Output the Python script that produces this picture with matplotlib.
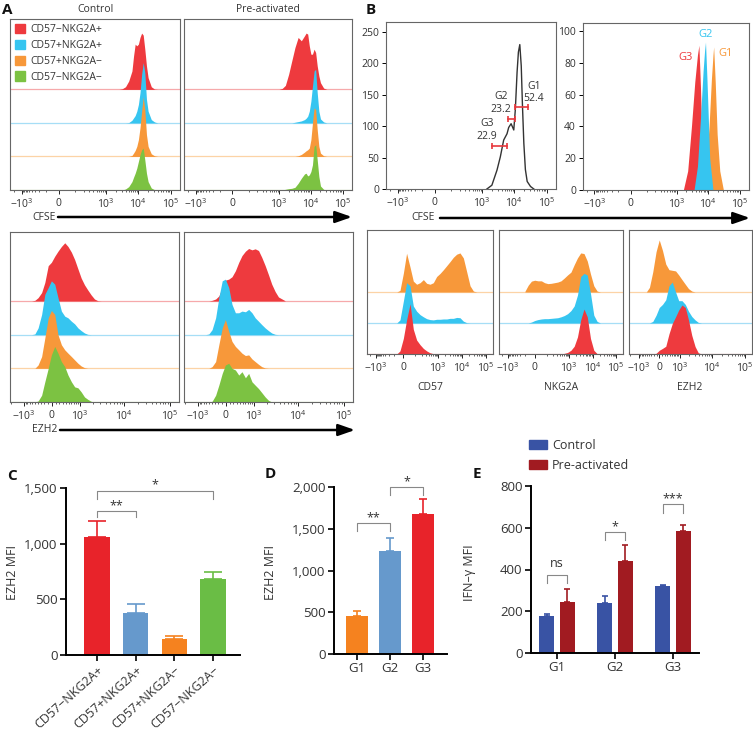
import numpy as np
import matplotlib.pyplot as plt
from matplotlib.patches import Patch, FancyArrowPatch
from matplotlib.ticker import FuncFormatter

W, H = 753, 731

# ---------------- colours ----------------
RED, BLUE, ORANGE, GREEN = '#ee3a3e', '#36c5f0', '#f7983a', '#7cc242'
PALE = {RED: '#f6a9ab', BLUE: '#a6def6', ORANGE: '#fcd3a6', GREEN: '#c6e3a6'}
TXT = '#333333'

# ---------------- panel A : CFSE (x = fluorescence, heights in row units) ----------------
cfse_x = [790, 1000, 1260, 1580, 2000, 2510, 3160, 3980, 5010, 6310, 7080, 7940,
          8910, 10000, 11200, 12600, 14100, 15800, 17800, 20000, 25100, 31600, 39800]
ctrl_cfse_red = [0, 0, 0, 0, 0, 0, 0.02, 0.08, 0.25, 0.55, 1.0, 1.35, 1.3, 1.35, 1.55, 1.68, 1.62, 1.2, 0.7, 0.35, 0.08, 0.01, 0]
ctrl_cfse_blue = [0, 0, 0, 0, 0, 0, 0, 0, 0.01, 0.08, 0.15, 0.22, 0.35, 0.55, 0.9, 1.45, 1.8, 1.5, 0.7, 0.35, 0.1, 0.03, 0]
ctrl_cfse_orange = [0, 0, 0, 0, 0, 0, 0, 0, 0, 0.03, 0.1, 0.18, 0.3, 0.5, 0.85, 1.35, 1.78, 1.4, 0.65, 0.3, 0.08, 0.02, 0]
ctrl_cfse_green = [0, 0, 0, 0, 0, 0, 0, 0.03, 0.1, 0.25, 0.38, 0.5, 0.65, 0.85, 1.05, 1.2, 1.25, 0.9, 0.5, 0.25, 0.06, 0.01, 0]
pre_cfse_red = [0, 0, 0.03, 0.12, 0.45, 0.85, 1.25, 1.55, 1.45, 1.6, 1.68, 1.65, 1.3, 1.05, 1.05, 1.2, 1.1, 0.7, 0.4, 0.2, 0.04, 0, 0]
pre_cfse_blue = [0, 0, 0, 0, 0, 0, 0.02, 0.04, 0.06, 0.1, 0.14, 0.2, 0.35, 0.65, 1.1, 1.55, 1.6, 0.9, 0.35, 0.12, 0.03, 0, 0]
pre_cfse_orange = [0, 0, 0, 0, 0, 0, 0, 0.02, 0.06, 0.13, 0.17, 0.2, 0.25, 0.5, 1.0, 1.45, 1.4, 0.8, 0.3, 0.1, 0.02, 0, 0]
pre_cfse_green = [0, 0, 0, 0.02, 0.04, 0.05, 0.08, 0.2, 0.35, 0.48, 0.5, 0.42, 0.45, 0.55, 0.75, 1.3, 1.35, 0.9, 0.4, 0.12, 0.02, 0, 0]

# ---------------- panel A : EZH2 ----------------
ezh2_x = [-620, -494, -383, -274, -183, -92, -9, 78, 165, 261, 363, 471,
          599, 738, 899, 1081, 1298, 1544, 1853, 2201, 2606, 3109, 3678, 5140]
ctrl_ezh2_red = [0, 0.02, 0.1, 0.25, 0.55, 1.05, 1.15, 1.33, 1.48, 1.62, 1.73, 1.62, 1.45, 1.23, 0.95, 0.68, 0.48, 0.33, 0.18, 0.06, 0.01, 0, 0, 0]
ctrl_ezh2_blue = [0, 0.02, 0.2, 0.6, 1.2, 1.4, 1.6, 1.5, 1.1, 0.7, 0.55, 0.5, 0.4, 0.32, 0.2, 0.12, 0.05, 0.01, 0, 0, 0, 0, 0, 0]
ctrl_ezh2_orange = [0, 0, 0.1, 0.35, 0.9, 1.5, 1.72, 1.6, 1.0, 0.7, 0.55, 0.45, 0.35, 0.25, 0.15, 0.07, 0.02, 0, 0, 0, 0, 0, 0, 0]
ctrl_ezh2_green = [0, 0, 0.03, 0.2, 0.6, 1.0, 1.4, 1.65, 1.45, 1.2, 1.05, 0.8, 0.6, 0.45, 0.42, 0.3, 0.15, 0.08, 0.02, 0, 0, 0, 0, 0]
pre_ezh2_red = [0, 0, 0.02, 0.06, 0.15, 0.4, 0.62, 0.65, 0.72, 0.9, 1.15, 1.35, 1.48, 1.56, 1.52, 1.55, 1.5, 1.3, 1.05, 0.78, 0.5, 0.28, 0.12, 0.01]
pre_ezh2_blue = [0, 0.02, 0.15, 0.5, 1.1, 1.6, 1.65, 1.4, 0.9, 0.65, 0.65, 0.7, 0.68, 0.75, 0.65, 0.5, 0.4, 0.3, 0.2, 0.12, 0.05, 0.01, 0, 0]
pre_ezh2_orange = [0, 0, 0.05, 0.2, 0.7, 1.2, 1.45, 1.1, 0.8, 0.65, 0.55, 0.45, 0.38, 0.4, 0.28, 0.2, 0.12, 0.05, 0.01, 0, 0, 0, 0, 0]
pre_ezh2_green = [0, 0, 0.02, 0.2, 0.5, 0.85, 1.1, 1.15, 1.0, 0.95, 0.8, 0.9, 0.72, 0.85, 0.6, 0.5, 0.4, 0.28, 0.15, 0.05, 0, 0, 0, 0]

A_LEGEND = ['CD57\u2212NKG2A+', 'CD57+NKG2A+', 'CD57+NKG2A\u2212', 'CD57\u2212NKG2A\u2212']

# ---------------- panel B top : CFSE gating ----------------
b_line_x = [1400, 2000, 2880, 3650, 4650, 5900, 6650, 7900, 9560, 10700, 12100, 13300,
            14700, 16300, 17800, 19600, 21900, 24900, 31600, 40000]
b_line_count = [0, 6, 30, 51, 78, 88, 98, 104, 94, 127, 186, 218, 230, 196, 132, 73, 31, 12, 4, 0]
gate_names = ['G1', 'G2', 'G3']
gate_pct = ['52.4', '23.2', '22.9']
gate_lo = [10700, 6200, 2000]
gate_hi = [26700, 10300, 5900]
gate_y = [130, 112, 69]
gate_label_x = [40000, 3830, 1400]
gate_label_y = [154, 137, 94]

g3_x = [1600, 2200, 2900, 3700, 4500, 5000, 5600, 6500, 7500]
g3_y = [0, 12, 40, 68, 85, 91, 65, 20, 0]
g2_x = [3500, 4500, 5600, 6800, 7600, 8100, 9000, 11000, 14000]
g2_y = [0, 15, 45, 75, 88, 93, 70, 20, 0]
g1_x = [6500, 8500, 10500, 12500, 14000, 14700, 16500, 19000, 23000, 30000]
g1_y = [0, 15, 40, 70, 85, 90, 68, 35, 12, 0]

# ---------------- panel B bottom : CD57 / NKG2A / EZH2 per gate ----------------
mk_x = [-107, -62, -29, 0, 22, 48, 77, 115, 166, 233, 323, 449, 619, 855, 1190,
        1640, 2260, 3100, 4280, 5900, 8100, 11200, 15500, 21400, 29500, 40600]
cd57_g1 = [0, 0, 0.05, 0.6, 1.25, 0.8, 0.35, 0.25, 0.3, 0.4, 0.28, 0.25, 0.3, 0.5, 0.6, 0.72, 0.85, 0.98, 1.12, 1.22, 1.26, 1.1, 0.65, 0.2, 0.03, 0]
cd57_g2 = [0, 0, 0.1, 0.7, 1.3, 1.2, 0.55, 0.38, 0.27, 0.2, 0.14, 0.11, 0.1, 0.12, 0.12, 0.13, 0.13, 0.15, 0.15, 0.18, 0.17, 0.06, 0.01, 0, 0, 0]
cd57_g3 = [0, 0, 0.1, 0.5, 1.1, 1.62, 0.8, 0.45, 0.3, 0.18, 0.1, 0.04, 0.01, 0, 0, 0, 0, 0, 0, 0, 0, 0, 0, 0, 0, 0]
nkg2a_g1 = [0.02, 0.22, 0.35, 0.38, 0.36, 0.36, 0.3, 0.27, 0.28, 0.3, 0.32, 0.36, 0.45, 0.55, 0.64, 0.88, 1.1, 1.26, 1.24, 1.0, 0.58, 0.2, 0.03, 0, 0, 0]
nkg2a_g2 = [0, 0, 0.03, 0.08, 0.11, 0.13, 0.14, 0.14, 0.15, 0.16, 0.17, 0.2, 0.24, 0.3, 0.4, 0.55, 0.9, 1.5, 1.6, 1.55, 0.95, 0.25, 0.05, 0, 0, 0]
nkg2a_g3 = [0, 0, 0, 0, 0, 0, 0, 0, 0, 0, 0, 0, 0.02, 0.05, 0.12, 0.25, 0.55, 1.1, 1.45, 1.2, 0.5, 0.12, 0.01, 0, 0, 0]
ezh2b_x = [-726, -534, -383, -244, -119, -5, 112, 236, 369, 523, 708, 918,
           1180, 1513, 1908, 2416, 3052, 3817, 4817, 6069, 7572, 9440]
ezh2_g1 = [0, 0, 0.15, 0.65, 1.3, 1.68, 1.34, 0.9, 0.72, 0.7, 0.68, 0.55, 0.4, 0.25, 0.11, 0.03, 0, 0, 0, 0, 0, 0]
ezh2_g2 = [0, 0, 0, 0.05, 0.25, 0.5, 0.6, 0.75, 1.2, 1.32, 1.0, 0.72, 0.72, 0.6, 0.38, 0.21, 0.1, 0.02, 0, 0, 0, 0]
ezh2_g3 = [0, 0, 0, 0, 0.02, 0.12, 0.18, 0.25, 0.65, 0.98, 1.2, 1.42, 1.58, 1.5, 1.1, 0.6, 0.24, 0.04, 0, 0, 0, 0]

# ---------------- bar panels ----------------
c_labels = ['CD57\u2212NKG2A+', 'CD57+NKG2A+', 'CD57+NKG2A\u2212', 'CD57\u2212NKG2A\u2212']
c_mean = [1060, 380, 140, 680]
c_err = [140, 80, 35, 65]
c_colors = ['#e8232a', '#6699cc', '#f5821f', '#6abd45']
c_sig = [(0, 1, 1290, 1240, '**'), (0, 3, 1473, 1400, '*')]

d_labels = ['G1', 'G2', 'G3']
d_mean = [450, 1235, 1675]
d_err = [60, 160, 180]
d_colors = ['#f5821f', '#6699cc', '#e8232a']
d_sig = [(0, 1, 1569, 1473, '**'), (1, 2, 2000, 1904, '*')]

e_labels = ['G1', 'G2', 'G3']
e_ctrl = [178, 240, 320]
e_ctrl_err = [7, 35, 5]
e_pre = [245, 440, 583]
e_pre_err = [60, 75, 29]
e_sig = [(0, 374, 335, 'ns'), (1, 580, 541, '*'), (2, 714, 671, '***')]
E_CTRL, E_PRE = '#3953a4', '#a11b21'

# ---------------- style ----------------
plt.rcParams['font.family'] = ['Open Sans', 'DejaVu Sans']
plt.rcParams['mathtext.fontset'] = 'custom'
plt.rcParams['mathtext.rm'] = 'Open Sans'
plt.rcParams['mathtext.it'] = 'Open Sans:italic'
plt.rcParams['mathtext.bf'] = 'Open Sans:bold'
plt.rcParams['text.color'] = TXT

fig = plt.figure(figsize=(W / 100, H / 100), dpi=100)


def add_ax(x0, y0, x1, y1):
    return fig.add_axes([x0 / W, 1 - y1 / H, (x1 - x0) / W, (y1 - y0) / H])


def ftext(x, y, s, **kw):
    return fig.text(x / W, 1 - y / H, s, **kw)


def logicle(c, k):
    def fwd(x):
        x = np.asarray(x, float)
        return np.where(x >= 0, np.arcsinh(x / c), k * np.arcsinh(x / c))

    def inv(y):
        y = np.asarray(y, float)
        return np.where(y >= 0, c * np.sinh(y), c * np.sinh(y / k))
    return fwd, inv


CFSE_SCALE, CFSE_LIM = logicle(69, 0.79), (-2900, 195000)
EZH2_SCALE, EZH2_LIM = logicle(513, 1.0), (-2090, 160600)
MAJOR = [-1000, 0, 1000, 10000, 100000]
MAJOR_LAB = ['$-10^3$', '$0$', '$10^3$', '$10^4$', '$10^5$']
MINOR = ([-2000] + [-100 * m for m in range(1, 10)] + [100 * m for m in range(1, 10)]
         + [1000 * m for m in range(2, 10)] + [10000 * m for m in range(2, 10)])


def flow_ax(box, scale, lim):
    ax = add_ax(*box)
    ax.set_xscale('function', functions=scale)
    ax.set_xlim(lim)
    ax.set_xticks(MAJOR, MAJOR_LAB)
    ax.set_xticks(MINOR, minor=True)
    ax.tick_params(axis='x', which='major', length=3, width=0.7, labelsize=7.5, pad=2,
                   color='#222', labelcolor=TXT)
    ax.tick_params(axis='x', which='minor', length=1.6, width=0.5, color='#222')
    ax.tick_params(axis='y', left=False, labelleft=False)
    for s in ax.spines.values():
        s.set_color('#666')
        s.set_linewidth(0.8)
    return ax


def stack(ax, xs, rows, colors, top):
    n = len(rows)
    for i, (ys, c) in enumerate(zip(rows, colors)):
        base = n - 1 - i
        ax.axhline(base, color=PALE[c], lw=0.9, zorder=1 + 0.2 * i)
        ax.fill_between(xs, base, base + np.asarray(ys), color=c, lw=0, zorder=1.1 + 0.2 * i)
    ax.set_ylim(0, top)


def arrow(x0, x1, y, label, lx):
    ftext(lx, y, label, ha='center', va='center', fontsize=7.5)
    fig.add_artist(FancyArrowPatch((x0 / W, 1 - y / H), (x1 / W, 1 - y / H),
                                   transform=fig.transFigure, arrowstyle='-|>,head_length=1.0,head_width=0.35',
                                   mutation_scale=10, lw=1.8, color='k', shrinkA=0, shrinkB=0))


A4 = [RED, BLUE, ORANGE, GREEN]

# ---- A top (CFSE)
ax = flow_ax((10, 19, 180, 190), CFSE_SCALE, CFSE_LIM)
stack(ax, cfse_x, [ctrl_cfse_red, ctrl_cfse_blue, ctrl_cfse_orange, ctrl_cfse_green], A4, 5.1)
ax.legend([Patch(color=c) for c in A4], A_LEGEND, loc='upper left', frameon=False, fontsize=7.5,
          handlelength=1.0, handleheight=1.0, handletextpad=0.5, labelspacing=0.45,
          borderpad=0.2, borderaxespad=0.25, labelcolor=TXT)
ax = flow_ax((184, 19, 352, 190), CFSE_SCALE, CFSE_LIM)
stack(ax, cfse_x, [pre_cfse_red, pre_cfse_blue, pre_cfse_orange, pre_cfse_green], A4, 5.1)
ftext(95, 10, 'Control', ha='center', va='center', fontsize=7.5)
ftext(268, 10, 'Pre-activated', ha='center', va='center', fontsize=7.5)
arrow(58, 352, 217, 'CFSE', 44)

# ---- A bottom (EZH2)
ax = flow_ax((10, 232, 179, 402), EZH2_SCALE, EZH2_LIM)
stack(ax, ezh2_x, [ctrl_ezh2_red, ctrl_ezh2_blue, ctrl_ezh2_orange, ctrl_ezh2_green], A4, 5.05)
ax = flow_ax((184, 232, 353, 402), EZH2_SCALE, EZH2_LIM)
stack(ax, ezh2_x, [pre_ezh2_red, pre_ezh2_blue, pre_ezh2_orange, pre_ezh2_green], A4, 5.05)
arrow(60, 355, 430, 'EZH2', 45)

# ---- B top left: CFSE gating
ax = flow_ax((386, 22, 556, 189), CFSE_SCALE, CFSE_LIM)
ax.plot(b_line_x, b_line_count, color='#333', lw=1.0)
for lo, hi, y in zip(gate_lo, gate_hi, gate_y):
    ax.plot([lo, hi], [y, y], color='#e8383d', lw=1.2, marker='|', ms=5, mew=1.2)
for name, pct, x, y in zip(gate_names, gate_pct, gate_label_x, gate_label_y):
    ax.text(x, y, name + '\n' + pct, ha='center', va='center', fontsize=7.5, linespacing=1.15)
ax.set_ylim(0, 266)
ax.set_yticks([0, 50, 100, 150, 200, 250])
ax.tick_params(axis='y', left=True, labelleft=True, length=3, width=0.7, labelsize=7.5,
               pad=2, labelcolor=TXT)

# ---- B top right: gates overlay
ax = flow_ax((583, 23, 749, 190), CFSE_SCALE, CFSE_LIM)
ax.fill_between(g3_x, 0, g3_y, color=RED, lw=0)
ax.fill_between(g1_x, 0, g1_y, color=ORANGE, lw=0)
ax.fill_between(g2_x, 0, g2_y, color=BLUE, lw=0)
ax.text(1900, 83, 'G3', color=RED, ha='center', va='center', fontsize=8)
ax.text(8100, 97.5, 'G2', color=BLUE, ha='center', va='center', fontsize=8)
ax.text(35600, 86, 'G1', color=ORANGE, ha='center', va='center', fontsize=8)
ax.set_ylim(0, 105)
ax.set_yticks([0, 20, 40, 60, 80, 100])
ax.tick_params(axis='y', left=True, labelleft=True, length=3, width=0.7, labelsize=7.5,
               pad=2, labelcolor=TXT)
arrow(440, 750, 218, 'CFSE', 423)

# ---- B bottom
B3 = [ORANGE, BLUE, RED]
ax = flow_ax((367, 230, 493, 354), CFSE_SCALE, CFSE_LIM)
stack(ax, mk_x, [cd57_g1, cd57_g2, cd57_g3], B3, 4.0)
ax = flow_ax((499, 230, 623, 354), CFSE_SCALE, CFSE_LIM)
stack(ax, mk_x, [nkg2a_g1, nkg2a_g2, nkg2a_g3], B3, 4.0)
ax = flow_ax((629, 230, 752, 354), EZH2_SCALE, EZH2_LIM)
stack(ax, ezh2b_x, [ezh2_g1, ezh2_g2, ezh2_g3], B3, 4.0)
for x, s in [(430, 'CD57'), (561, 'NKG2A'), (690, 'EZH2')]:
    ftext(x, 387, s, ha='center', va='center', fontsize=7.5)


# ---------------- bar panels ----------------
def bar_ax(box, ylim, yticks):
    ax = add_ax(*box)
    ax.spines[['top', 'right']].set_visible(False)
    ax.spines[['left', 'bottom']].set_linewidth(1.4)
    ax.set_ylim(*ylim)
    ax.set_yticks(yticks)
    ax.yaxis.set_major_formatter(FuncFormatter(lambda v, p: f'{v:,.0f}'))
    ax.tick_params(labelsize=9.5, width=1.2, length=4, labelcolor=TXT, pad=2)
    return ax


def bars(ax, xs, mean, err, colors, width, capsize):
    ax.bar(xs, mean, width=width, color=colors)
    for x, m, e, c in zip(xs, mean, err, colors):
        ax.errorbar(x, m, yerr=[[0], [e]], fmt='none', ecolor=c, elinewidth=1.2,
                    capsize=capsize, capthick=1.2)


def bracket(ax, x1, x2, top, arm, text, dy):
    ax.plot([x1, x1, x2, x2], [arm, top, top, arm], color='#888', lw=0.8, clip_on=False)
    ax.text((x1 + x2) / 2, top + dy, text, ha='center', va='baseline', fontsize=9, clip_on=False)


# C
ax = bar_ax((66, 488, 240, 655), (0, 1500), [0, 500, 1000, 1500])
xc = np.arange(len(c_mean))
bars(ax, xc, c_mean, c_err, c_colors, 0.65, 6.5)
ax.set_xlim(-0.8, 3.7)
ax.set_xticks(xc, c_labels, rotation=42, ha='right', rotation_mode='anchor', fontsize=9)
for i, j, top, arm, s in c_sig:
    bracket(ax, i, j, top, arm, s, 20)
ftext(13, 573, 'EZH2 MFI', rotation=90, ha='center', va='center', fontsize=9)

# D
ax = bar_ax((334, 487, 447, 654), (0, 2000), [0, 500, 1000, 1500, 2000])
xd = np.arange(len(d_mean))
bars(ax, xd, d_mean, d_err, d_colors, 0.69, 3)
ax.set_xlim(-0.7, 2.73)
ax.set_xticks(xd, d_labels)
for i, j, top, arm, s in d_sig:
    bracket(ax, i, j, top, arm, s, 24)
ftext(270, 573, 'EZH2 MFI', rotation=90, ha='center', va='center', fontsize=9)

# E
ax = bar_ax((531, 486, 699, 653), (0, 800), [0, 200, 400, 600, 800])
xe = np.arange(len(e_ctrl))
bars(ax, xe - 0.18, e_ctrl, e_ctrl_err, [E_CTRL] * 3, 0.25, 2.5)
bars(ax, xe + 0.18, e_pre, e_pre_err, [E_PRE] * 3, 0.25, 2.5)
ax.set_xlim(-0.45, 2.45)
ax.set_xticks(xe, e_labels)
for g, top, arm, s in e_sig:
    bracket(ax, g - 0.18, g + 0.18, top, arm, s, 38 if s == 'ns' else 10)
ftext(470, 573, 'IFN\u2013\u03b3 MFI', rotation=90, ha='center', va='center', fontsize=9)
ax.legend([Patch(color=E_CTRL), Patch(color=E_PRE)], ['Control', 'Pre-activated'],
          loc='upper left', bbox_to_anchor=(529 / W, 1 - 439 / H), bbox_transform=fig.transFigure,
          frameon=False, fontsize=9, handlelength=1.45, handleheight=0.75, handletextpad=0.4,
          labelspacing=0.55, borderpad=0, borderaxespad=0, labelcolor=TXT)

# panel letters
for x, y, s in [(7, 10, 'A'), (371, 10, 'B'), (12, 476, 'C'), (270, 474, 'D'), (477, 474, 'E')]:
    ftext(x, y, s, ha='center', va='center', fontsize=11, fontweight='bold', color='#111')

fig.savefig('out.png', dpi=100)
